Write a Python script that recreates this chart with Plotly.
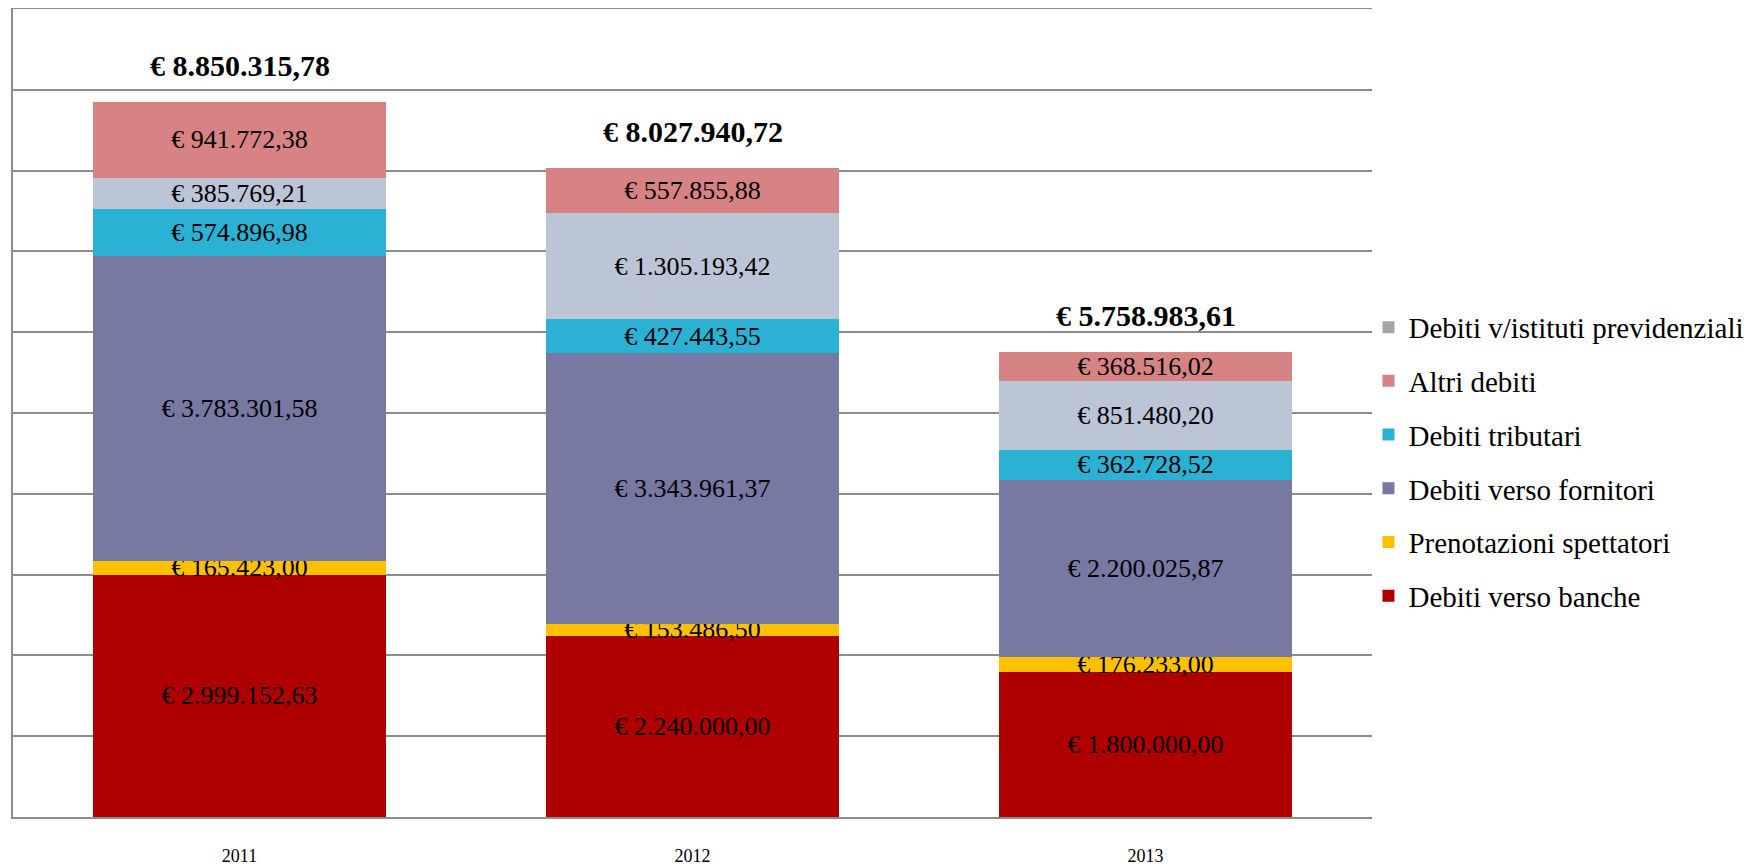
import plotly.graph_objects as go

years = ["2011", "2012", "2013"]
series_names = [
    "Debiti verso banche",
    "Prenotazioni spettatori",
    "Debiti verso fornitori",
    "Debiti tributari",
    "Debiti v/istituti previdenziali",
    "Altri debiti",
]
banche = [2999152.63, 2240000.00, 1800000.00]
prenotazioni = [165423.00, 153486.50, 176233.00]
fornitori = [3783301.58, 3343961.37, 2200025.87]
tributari = [574896.98, 427443.55, 362728.52]
previdenziali = [385769.21, 1305193.42, 851480.20]
altri = [941772.38, 557855.88, 368516.02]

values = [banche, prenotazioni, fornitori, tributari, previdenziali, altri]
colors = ["#AE0000", "#FFC000", "#7779A2", "#2BB1D4", "#BCC5D5", "#D78383"]
legend_colors = ["#AE0000", "#FFC000", "#7779A2", "#2BB1D4", "#A6A6A6", "#D78383"]
legend_ranks = [6, 5, 4, 3, 1, 2]

FONT = "Liberation Serif"

fig = go.Figure()
for name, vals, col in zip(series_names, values, colors):
    fig.add_trace(go.Bar(
        x=years, y=vals, name=name,
        marker=dict(color=col, line=dict(width=0)),
        texttemplate="€ %{y:,.2f}",
        textposition="inside",
        insidetextanchor="middle",
        textangle=0,
        constraintext="none",
        textfont=dict(family=FONT, size=26, color="black"),
        showlegend=False,
        hoverinfo="skip",
    ))
for name, lcol, rank in zip(series_names, legend_colors, legend_ranks):
    # legend-only entry (zero-height)
    fig.add_trace(go.Bar(
        x=years, y=[0] * len(years), name=name,
        marker=dict(color=lcol, line=dict(width=0)),
        showlegend=True, legendrank=rank, legendgroup=name,
        hoverinfo="skip",
    ))

totals = [sum(v[i] for v in values) for i in range(len(years))]
for i, tot in enumerate(totals):
    s = f"{tot:,.2f}".replace(",", "X").replace(".", ",").replace("X", ".")
    fig.add_annotation(
        x=i, y=tot, xref="x", yref="y", text=f"<b>€ {s}</b>", showarrow=False,
        yanchor="bottom", yshift=18,
        font=dict(family=FONT, size=30, color="black"),
    )

fig.update_layout(
    barmode="stack",
    bargap=0.355,
    width=1748, height=860,
    margin=dict(l=5, r=384, t=1, b=51, autoexpand=False),
    plot_bgcolor="white", paper_bgcolor="white",
    separators=",.",
    showlegend=True,
    legend=dict(
        x=0.9974, xanchor="left", y=0.4396, yanchor="middle",
        font=dict(family=FONT, size=29, color="black"),
        tracegroupgap=13, bgcolor="rgba(0,0,0,0)",
    ),
    font=dict(family=FONT, color="black"),
)
fig.update_xaxes(
    type="category", range=[-0.5, 2.5], automargin=False,
    showline=True, mirror=True, linecolor="#8C8C8C", linewidth=2,
    tickfont=dict(family=FONT, size=18, color="black"),
    ticks="", ticklabelstandoff=21,
)
fig.update_yaxes(
    range=[0, 10000000], dtick=1000000, automargin=False,
    showgrid=True, gridcolor="#8C8C8C", gridwidth=1.5,
    showline=True, linecolor="#8C8C8C", linewidth=2,
    showticklabels=False, ticks="", zeroline=False,
)

fig.write_html("out.html")
